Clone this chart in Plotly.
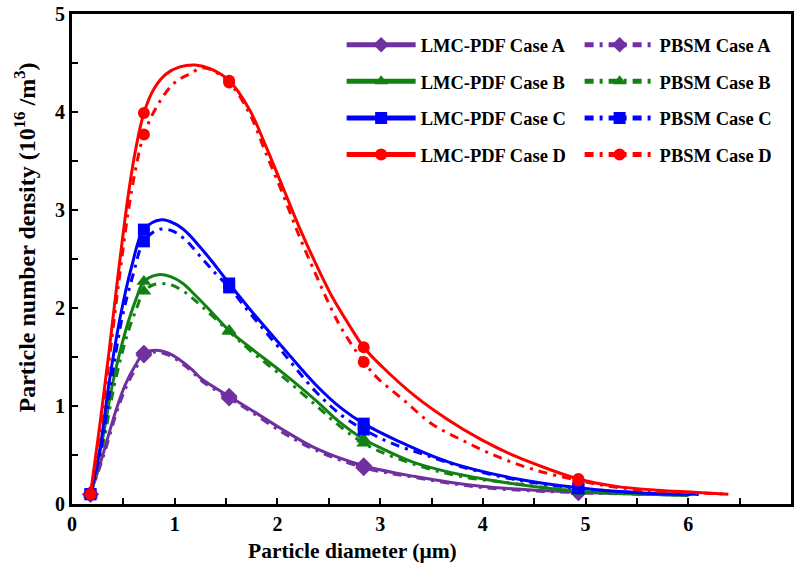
import plotly.graph_objects as go

# Diameters (um) at which symbols are drawn on every curve
MARKER_X = [0.18, 0.70, 1.53, 2.84, 4.93]

# ---- LMC-PDF results (solid lines) ----
lmc_a_x = [0.18, 0.30, 0.42, 0.52, 0.62, 0.70, 0.82, 0.94, 1.05, 1.16, 1.27, 1.53, 1.73, 2.05, 2.37, 2.84, 3.34, 3.98, 4.93, 5.60, 6.00]
lmc_a_y = [0.10, 0.50, 0.93, 1.22, 1.42, 1.54, 1.57, 1.54, 1.47, 1.38, 1.27, 1.10, 0.97, 0.76, 0.57, 0.39, 0.28, 0.18, 0.12, 0.10, 0.09]

lmc_b_x = [0.18, 0.29, 0.40, 0.52, 0.62, 0.70, 0.84, 0.96, 1.08, 1.20, 1.34, 1.53, 1.73, 2.05, 2.37, 2.60, 2.84, 3.05, 3.34, 3.98, 4.93, 5.60, 6.00]
lmc_b_y = [0.10, 0.62, 1.25, 1.76, 2.08, 2.27, 2.34, 2.32, 2.25, 2.13, 1.98, 1.77, 1.60, 1.34, 1.06, 0.84, 0.66, 0.55, 0.42, 0.26, 0.13, 0.10, 0.09]

lmc_c_x = [0.18, 0.27, 0.36, 0.47, 0.58, 0.70, 0.87, 1.00, 1.12, 1.24, 1.36, 1.53, 1.73, 2.05, 2.37, 2.63, 2.84, 3.18, 3.66, 4.31, 4.93, 5.60, 6.10]
lmc_c_y = [0.10, 0.55, 1.23, 1.91, 2.42, 2.80, 2.90, 2.86, 2.77, 2.63, 2.48, 2.25, 1.99, 1.60, 1.22, 0.97, 0.82, 0.64, 0.43, 0.26, 0.165, 0.11, 0.10]

lmc_d_x = [0.18, 0.27, 0.36, 0.45, 0.55, 0.62, 0.70, 0.80, 0.92, 1.05, 1.20, 1.35, 1.53, 1.73, 1.88, 2.05, 2.21, 2.37, 2.53, 2.69, 2.84, 3.02, 3.34, 3.66, 3.98, 4.31, 4.63, 4.93, 5.30, 5.70, 6.05, 6.39]
lmc_d_y = [0.10, 0.80, 1.55, 2.35, 3.17, 3.62, 3.99, 4.24, 4.39, 4.46, 4.48, 4.44, 4.32, 4.02, 3.67, 3.24, 2.83, 2.46, 2.12, 1.84, 1.60, 1.40, 1.10, 0.86, 0.66, 0.49, 0.36, 0.255, 0.18, 0.14, 0.12, 0.10]

# ---- PBSM results (dash-dot lines) ----
pbsm_a_x = [0.18, 0.31, 0.43, 0.53, 0.63, 0.70, 0.83, 0.94, 1.05, 1.16, 1.27, 1.53, 1.73, 2.05, 2.37, 2.84, 3.34, 3.98, 4.93, 5.60, 6.00]
pbsm_a_y = [0.10, 0.50, 0.92, 1.20, 1.40, 1.52, 1.55, 1.52, 1.45, 1.36, 1.25, 1.08, 0.95, 0.73, 0.55, 0.37, 0.27, 0.17, 0.115, 0.10, 0.09]

pbsm_b_x = [0.18, 0.30, 0.41, 0.53, 0.63, 0.70, 0.80, 0.95, 1.10, 1.27, 1.53, 1.73, 2.05, 2.37, 2.60, 2.84, 3.08, 3.44, 3.79, 4.30, 4.93, 5.60, 6.00]
pbsm_b_y = [0.10, 0.60, 1.20, 1.70, 2.00, 2.17, 2.24, 2.24, 2.16, 2.01, 1.76, 1.57, 1.30, 1.01, 0.80, 0.62, 0.50, 0.37, 0.28, 0.21, 0.13, 0.10, 0.09]

pbsm_c_x = [0.18, 0.28, 0.38, 0.49, 0.60, 0.70, 0.84, 0.97, 1.10, 1.27, 1.40, 1.53, 1.73, 2.05, 2.37, 2.63, 2.84, 3.11, 3.44, 3.79, 4.31, 4.93, 5.60, 6.10]
pbsm_c_y = [0.10, 0.55, 1.23, 1.91, 2.36, 2.68, 2.80, 2.79, 2.70, 2.50, 2.35, 2.21, 1.95, 1.55, 1.15, 0.90, 0.76, 0.62, 0.50, 0.38, 0.25, 0.16, 0.11, 0.10]

pbsm_d_x = [0.18, 0.27, 0.36, 0.45, 0.55, 0.62, 0.70, 0.85, 1.00, 1.13, 1.29, 1.53, 1.73, 1.88, 2.05, 2.21, 2.37, 2.53, 2.63, 2.84, 2.98, 3.23, 3.50, 3.82, 4.15, 4.50, 4.93, 5.30, 5.70, 6.05, 6.39]
pbsm_d_y = [0.10, 0.72, 1.45, 2.22, 3.00, 3.42, 3.77, 4.10, 4.30, 4.38, 4.45, 4.30, 3.98, 3.60, 3.17, 2.74, 2.35, 1.98, 1.78, 1.45, 1.28, 1.06, 0.82, 0.64, 0.48, 0.35, 0.24, 0.17, 0.13, 0.115, 0.10]

COLORS = {"A": "#7030A0", "B": "#138013", "C": "#0000FF", "D": "#FF0000"}
SYMBOLS = {"A": "diamond", "B": "triangle-up", "C": "square", "D": "circle"}
SYM_SIZE = {"A": 13, "B": 13, "C": 12, "D": 12}
DASHDOT = "9px,6px,3px,6px"

series = [
    ("LMC-PDF Case A", "A", lmc_a_x, lmc_a_y, "solid", "legend"),
    ("PBSM Case A", "A", pbsm_a_x, pbsm_a_y, DASHDOT, "legend2"),
    ("LMC-PDF Case B", "B", lmc_b_x, lmc_b_y, "solid", "legend"),
    ("PBSM Case B", "B", pbsm_b_x, pbsm_b_y, DASHDOT, "legend2"),
    ("LMC-PDF Case C", "C", lmc_c_x, lmc_c_y, "solid", "legend"),
    ("PBSM Case C", "C", pbsm_c_x, pbsm_c_y, DASHDOT, "legend2"),
    ("LMC-PDF Case D", "D", lmc_d_x, lmc_d_y, "solid", "legend"),
    ("PBSM Case D", "D", pbsm_d_x, pbsm_d_y, DASHDOT, "legend2"),
]

FONT = "Liberation Serif"

fig = go.Figure()
for name, case, xs, ys, dash, leg in series:
    sizes = [SYM_SIZE[case] if x in MARKER_X else 0 for x in xs]
    fig.add_trace(go.Scatter(
        x=xs, y=ys, name=name, mode="lines+markers",
        line=dict(color=COLORS[case], width=3, dash=dash, shape="spline", smoothing=1.0),
        marker=dict(symbol=SYMBOLS[case], size=sizes, color=COLORS[case],
                    opacity=1, line=dict(width=0)),
        legend=leg, legendgroup=name,
    ))

axis_common = dict(
    showline=True, linecolor="black", linewidth=3, mirror=True,
    ticks="inside", ticklen=6, tickwidth=2, tickcolor="black",
    showgrid=False, zeroline=False,
    tickfont=dict(family=FONT, size=20, color="black", weight="bold"),
    minor=dict(dtick=0.5, ticks="inside", ticklen=6, tickwidth=2, tickcolor="black", showgrid=False),
)

fig.update_xaxes(range=[0, 7], dtick=1, **axis_common)
fig.update_yaxes(range=[0, 5], dtick=1, **axis_common)

fig.add_annotation(
    text="Particle diameter (\u03bcm)", xref="paper", yref="paper",
    x=0.39, y=-0.096, xanchor="center", yanchor="middle",
    showarrow=False, font=dict(family=FONT, size=21.5, color="black", weight="bold"),
)
fig.add_annotation(
    text="Particle number density (10<sup>16</sup> /m<sup>3</sup>)", xref="paper", yref="paper",
    x=-0.066, y=0.543, xanchor="center", yanchor="middle", textangle=-90,
    showarrow=False, font=dict(family=FONT, size=24, color="black", weight="bold"),
)

legend_common = dict(
    xanchor="left", yanchor="top", y=0.975,
    bgcolor="rgba(0,0,0,0)", borderwidth=0,
    font=dict(family=FONT, size=18.5, color="black", weight="bold"),
    tracegroupgap=9.5, itemsizing="constant",
)

fig.update_layout(
    width=795, height=570,
    margin=dict(l=72, r=1, t=14, b=66),
    paper_bgcolor="white", plot_bgcolor="white",
    showlegend=True,
    legend=dict(x=0.375, itemwidth=69, **legend_common),
    legend2=dict(x=0.706, itemwidth=70, **legend_common),
)

fig.write_html("out.html")
